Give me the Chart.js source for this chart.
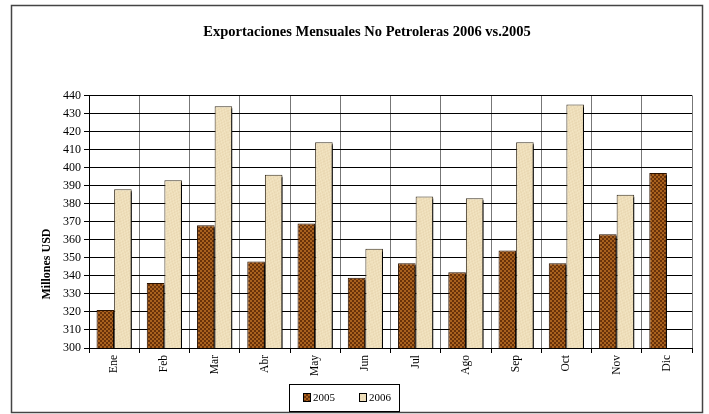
<!DOCTYPE html>
<html>
<head>
<meta charset="utf-8">
<script src="https://cdn.jsdelivr.net/npm/chart.js@4/dist/chart.umd.min.js"></script>
<style>
  html, body { margin: 0; padding: 0; background: #fff; }
  #wrap { width: 709px; height: 414px; position: relative; }
</style>
</head>
<body>
<div id="wrap"><canvas id="c" width="709" height="414"></canvas></div>
<script>
const categories = ['Ene', 'Feb', 'Mar', 'Abr', 'May', 'Jun', 'Jul', 'Ago', 'Sep', 'Oct', 'Nov', 'Dic'];
const values2005 = [321, 336, 368, 348, 369, 339, 347, 342, 354, 347, 363, 397];
const values2006 = [388, 393, 434, 396, 414, 355, 384, 383, 414, 435, 385, null];
const seriesNames = ['2005', '2006'];
const yMin = 300, yMax = 440, yStep = 10;
const chartTitle = 'Exportaciones Mensuales No Petroleras 2006 vs.2005';
const yAxisTitle = 'Millones USD';

function brownPattern() {
  const c = document.createElement('canvas');
  c.width = 4; c.height = 4;
  const g = c.getContext('2d');
  g.fillStyle = '#a9621f'; g.fillRect(0, 0, 4, 4);
  g.fillStyle = '#6a3209';
  g.fillRect(0, 0, 2, 2); g.fillRect(2, 2, 2, 2);
  return g.createPattern(c, 'repeat');
}
function beigePattern() {
  const c = document.createElement('canvas');
  c.width = 12; c.height = 12;
  const g = c.getContext('2d');
  for (let x = 0; x < 12; x++) {
    for (let y = 0; y < 12; y++) {
      const v = Math.sin(x * 1.7 + y * 0.9) * Math.cos(x * 0.6 - y * 1.3);
      const r = Math.round(238 + 6 * v), gg = Math.round(222 + 8 * v), b = Math.round(186 + 10 * v);
      g.fillStyle = 'rgb(' + r + ',' + gg + ',' + b + ')';
      g.fillRect(x, y, 1, 1);
    }
  }
  return g.createPattern(c, 'repeat');
}
const pat2005 = brownPattern();
const pat2006 = beigePattern();

const shadowPlugin = {
  id: 'barShadow',
  beforeDatasetsDraw(chart) {
    const ctx = chart.ctx;
    ctx.save();
    ctx.shadowColor = '#000';
    ctx.shadowOffsetX = 3;
    ctx.shadowOffsetY = 2;
    ctx.shadowBlur = 0;
  },
  afterDatasetsDraw(chart) { chart.ctx.restore(); }
};

const decorPlugin = {
  id: 'decor',
  afterDraw(chart) {
    const ctx = chart.ctx;
    ctx.save();
    // outer frame
    ctx.strokeStyle = '#444';
    ctx.lineWidth = 1.5;
    ctx.strokeRect(11.5, 5.5, 691, 407);
    // y axis title
    ctx.fillStyle = '#000';
    ctx.font = 'bold 12px "Liberation Serif", "Times New Roman", serif';
    ctx.textAlign = 'center';
    ctx.textBaseline = 'middle';
    ctx.translate(47, 264);
    ctx.rotate(-Math.PI / 2);
    ctx.fillText(yAxisTitle, 0, 0);
    ctx.restore();

    // legend
    ctx.save();
    ctx.strokeStyle = '#000';
    ctx.lineWidth = 1;
    ctx.fillStyle = '#fff';
    ctx.fillRect(289.5, 384.5, 110, 27);
    ctx.strokeRect(289.5, 384.5, 110, 27);
    const items = [
      { x: 303, fill: pat2005, label: seriesNames[0] },
      { x: 359, fill: pat2006, label: seriesNames[1] }
    ];
    ctx.font = '11px "Liberation Serif", "Times New Roman", serif';
    ctx.textBaseline = 'middle';
    ctx.textAlign = 'left';
    items.forEach(it => {
      ctx.fillStyle = it.fill;
      ctx.fillRect(it.x, 393, 7, 8);
      ctx.strokeStyle = '#000';
      ctx.strokeRect(it.x + 0.5, 393.5, 7, 8);
      ctx.fillStyle = '#000';
      ctx.fillText(it.label, it.x + 10, 398);
    });
    ctx.restore();
  }
};

new Chart(document.getElementById('c'), {
  type: 'bar',
  data: {
    labels: categories,
    datasets: [
      { label: seriesNames[0], data: values2005, backgroundColor: pat2005, borderColor: '#2a1200', borderWidth: 1 },
      { label: seriesNames[1], data: values2006, backgroundColor: pat2006, borderColor: '#3a3020', borderWidth: 1 }
    ]
  },
  options: {
    responsive: false,
    animation: false,
    devicePixelRatio: 1,
    layout: { padding: { left: 42, right: 17, top: 0, bottom: 0 } },
    datasets: { bar: { categoryPercentage: 0.7, barPercentage: 1.0 } },
    plugins: {
      legend: { display: false },
      tooltip: { enabled: false },
      title: {
        display: true,
        text: chartTitle,
        color: '#000',
        font: { family: '"Liberation Serif", "Times New Roman", serif', size: 14.5, weight: 'bold' },
        padding: { top: 24, bottom: 54 }
      }
    },
    scales: {
      x: {
        offset: true,
        grid: { offset: true, color: '#777', lineWidth: 1, tickLength: 5, tickColor: '#000', drawTicks: true },
        border: { color: '#000', width: 1 },
        ticks: {
          color: '#000',
          font: { family: '"Liberation Serif", "Times New Roman", serif', size: 11.5 },
          minRotation: 90, maxRotation: 90, padding: 2, autoSkip: false
        },
        afterFit(scale) { scale.height = 66; }
      },
      y: {
        min: yMin, max: yMax,
        grid: { color: '#000', lineWidth: 1, tickLength: 5, tickColor: '#000' },
        border: { color: '#000', width: 1 },
        ticks: {
          stepSize: yStep,
          color: '#000',
          padding: 3,
          font: { family: '"Liberation Serif", "Times New Roman", serif', size: 12 }
        },
        afterFit(scale) { scale.width = 47; }
      }
    }
  },
  plugins: [shadowPlugin, decorPlugin]
});
</script>
</body>
</html>
